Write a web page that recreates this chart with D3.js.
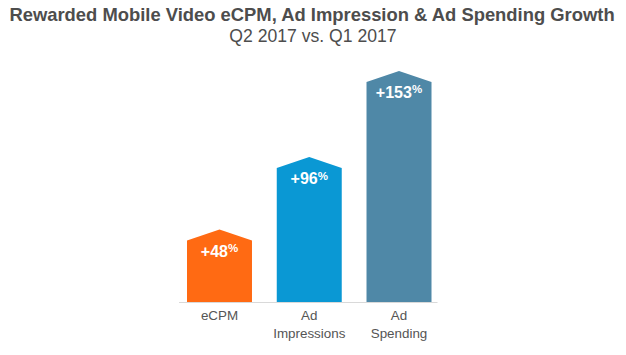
<!DOCTYPE html>
<html>
<head>
<meta charset="utf-8">
<script src="https://cdn.jsdelivr.net/npm/d3@7"></script>
<style>
  html, body { margin: 0; padding: 0; background: #fff; }
  svg { display: block; }
  text { font-family: "Liberation Sans", Arial, Helvetica, sans-serif; }
</style>
</head>
<body>
<svg id="chart" width="626" height="355"></svg>
<script>
const categories = ["eCPM", "Ad Impressions", "Ad Spending"];
const categoryLines = [["eCPM"], ["Ad", "Impressions"], ["Ad", "Spending"]];
const values = [48, 96, 153];
const colors = ["#FF6A13", "#0A98D4", "#4F88A7"];
const title = "Rewarded Mobile Video eCPM, Ad Impression & Ad Spending Growth";
const subtitle = "Q2 2017 vs. Q1 2017";

const svg = d3.select("#chart");
const W = 626;

const x = d3.scaleBand().domain(categories).range([187, 431.5]).paddingInner(0.276).paddingOuter(0);
const y = d3.scaleLinear().domain([0, 160]).range([302, 302 - 160 * 1.51]);
const roof = 11;

// title
svg.append("text").attr("x", W / 2 - 1).attr("y", 20.5).attr("text-anchor", "middle")
  .attr("font-size", 18.4).attr("font-weight", "bold").attr("fill", "#4d4d4d").text(title);
svg.append("text").attr("x", W / 2).attr("y", 41.5).attr("text-anchor", "middle")
  .attr("font-size", 17.6).attr("fill", "#4d4d4d").text(subtitle);

// bars
const data = categories.map((c, i) => ({ c, v: values[i], color: colors[i], lines: categoryLines[i] }));
svg.selectAll("path.bar").data(data).enter().append("path")
  .attr("class", "bar")
  .attr("fill", d => d.color)
  .attr("d", d => {
    const x0 = x(d.c), x1 = x0 + x.bandwidth(), xm = x0 + x.bandwidth() / 2;
    const top = y(d.v), base = y(0);
    return `M${x0},${base}L${x0},${top + roof}L${xm},${top}L${x1},${top + roof}L${x1},${base}Z`;
  });

// axis line
svg.append("line").attr("x1", x.range()[0] - 8).attr("x2", x.range()[1] + 6)
  .attr("y1", y(0) + 0.5).attr("y2", y(0) + 0.5).attr("stroke", "#d9d9d9").attr("stroke-width", 1);

// value labels
const vl = svg.selectAll("text.val").data(data).enter().append("text")
  .attr("class", "val")
  .attr("x", d => x(d.c) + x.bandwidth() / 2)
  .attr("y", d => y(d.v) + 27)
  .attr("text-anchor", "middle").attr("fill", "#fff").attr("font-weight", "bold").attr("font-size", 16);
vl.append("tspan").text(d => "+" + d.v);
vl.append("tspan").attr("font-size", 11.5).attr("dy", -4.5).text("%");

// category labels
const cl = svg.selectAll("text.cat").data(data).enter().append("text")
  .attr("class", "cat")
  .attr("x", d => x(d.c) + x.bandwidth() / 2)
  .attr("y", 320)
  .attr("text-anchor", "middle").attr("fill", "#555").attr("font-size", 13.4);
cl.selectAll("tspan").data(d => d.lines.map(l => ({ l, x: x(d.c) + x.bandwidth() / 2 }))).enter()
  .append("tspan").attr("x", t => t.x).attr("dy", (t, i) => i === 0 ? 0 : 18).text(t => t.l);
</script>
</body>
</html>
